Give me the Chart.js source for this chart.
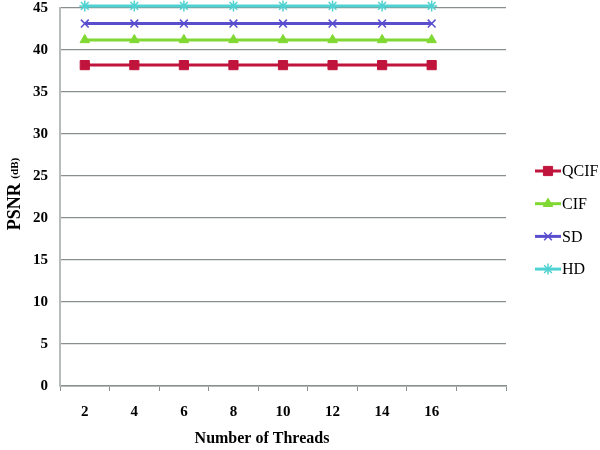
<!DOCTYPE html>
<html>
<head>
<meta charset="utf-8">
<script src="https://cdn.jsdelivr.net/npm/chart.js@4"></script>
<style>
  html, body { margin: 0; padding: 0; background: #fff; }
  #wrap { width: 600px; height: 450px; }
</style>
</head>
<body>
<div id="wrap"><canvas id="psnrChart" width="600" height="450"></canvas></div>
<script>
// Thread counts (last slot is empty in the original)
const threadLabels = ['2', '4', '6', '8', '10', '12', '14', '16', ''];
const qcifValues = [38.2, 38.2, 38.2, 38.2, 38.2, 38.2, 38.2, 38.2, null];
const cifValues = [41.2, 41.2, 41.2, 41.2, 41.2, 41.2, 41.2, 41.2, null];
const sdValues = [43.15, 43.15, 43.15, 43.15, 43.15, 43.15, 43.15, 43.15, null];
const hdValues = [45.25, 45.25, 45.25, 45.25, 45.25, 45.25, 45.25, 45.25, null];
const seriesNames = ['QCIF', 'CIF', 'SD', 'HD'];
const seriesColors = ['#c0143c', '#80d832', '#5a4ecf', '#4fd2d2'];
const seriesPoints = ['rect', 'triangle', 'crossRot', 'star'];

const serif = '"Liberation Serif", "Times New Roman", serif';

function makeDataset(i, values) {
    return {
        label: seriesNames[i],
        data: values,
        borderColor: seriesColors[i],
        backgroundColor: seriesColors[i],
        borderWidth: 3,
        pointStyle: seriesPoints[i],
        pointRadius: i === 0 ? 6.5 : 5.5,
        pointBorderWidth: i >= 2 ? 1.5 : 1,
        fill: false,
        tension: 0,
        clip: false
    };
}

// Draws the axis titles and the legend (line + marker samples)
const decorPlugin = {
    id: 'decor',
    afterDraw(chart) {
        const ctx = chart.ctx;
        ctx.save();
        ctx.fillStyle = '#000';

        // x axis title
        ctx.font = 'bold 16px ' + serif;
        ctx.textAlign = 'center';
        ctx.textBaseline = 'middle';
        ctx.fillText('Number of Threads', 262, 439);

        // y axis title, "PSNR" with small "(dB)"
        ctx.translate(14, 194);
        ctx.rotate(-Math.PI / 2);
        ctx.textAlign = 'left';
        ctx.textBaseline = 'middle';
        ctx.font = 'bold 18px ' + serif;
        const w1 = ctx.measureText('PSNR ').width;
        ctx.font = 'bold 11px ' + serif;
        const w2 = ctx.measureText('(dB)').width;
        const start = -(w1 + w2) / 2;
        ctx.font = 'bold 18px ' + serif;
        ctx.fillText('PSNR ', start, 1);
        ctx.font = 'bold 11px ' + serif;
        ctx.fillText('(dB)', start + w1, 1);
        ctx.restore();

        // legend
        ctx.save();
        ctx.font = '16px ' + serif;
        ctx.textAlign = 'left';
        ctx.textBaseline = 'middle';
        chart.data.datasets.forEach((ds, i) => {
            const y = 171 + i * 32.7;
            ctx.strokeStyle = ds.borderColor;
            ctx.lineWidth = 3;
            ctx.beginPath();
            ctx.moveTo(535, y);
            ctx.lineTo(561, y);
            ctx.stroke();
            ctx.lineWidth = ds.pointBorderWidth;
            ctx.fillStyle = ds.backgroundColor;
            Chart.helpers.drawPoint(ctx, {
                pointStyle: ds.pointStyle,
                radius: ds.pointRadius,
                borderWidth: ds.pointBorderWidth
            }, 548, y);
            ctx.fillStyle = '#000';
            ctx.fillText(ds.label, 562, y + 1);
        });
        ctx.restore();
    }
};

new Chart(document.getElementById('psnrChart').getContext('2d'), {
    type: 'line',
    data: {
        labels: threadLabels,
        datasets: [
            makeDataset(0, qcifValues),
            makeDataset(1, cifValues),
            makeDataset(2, sdValues),
            makeDataset(3, hdValues)
        ]
    },
    options: {
        responsive: false,
        animation: false,
        layout: { padding: { top: 8, right: 94, left: 0, bottom: 0 } },
        plugins: {
            legend: { display: false },
            tooltip: { enabled: false }
        },
        scales: {
            x: {
                offset: true,
                afterFit: scale => { scale.height = 64; },
                grid: {
                    offset: true,
                    drawOnChartArea: false,
                    drawTicks: true,
                    tickLength: 5,
                    color: '#8a9090'
                },
                border: { color: '#8a9090', width: 1.5 },
                ticks: {
                    color: '#000',
                    padding: 12,
                    maxRotation: 0,
                    autoSkip: false,
                    font: { family: serif, size: 15, weight: 'bold' }
                }
            },
            y: {
                min: 0,
                max: 45,
                afterFit: scale => {
                    scale.width = 60;
                    scale.paddingTop = 0;
                    scale.paddingBottom = 0;
                },
                grid: {
                    color: '#8a9090',
                    lineWidth: 1.2,
                    drawTicks: false
                },
                border: { color: '#b8bcbc', width: 2 },
                ticks: {
                    stepSize: 5,
                    color: '#000',
                    padding: 12,
                    font: { family: serif, size: 15, weight: 'bold' }
                }
            }
        }
    },
    plugins: [decorPlugin]
});
</script>
</body>
</html>
